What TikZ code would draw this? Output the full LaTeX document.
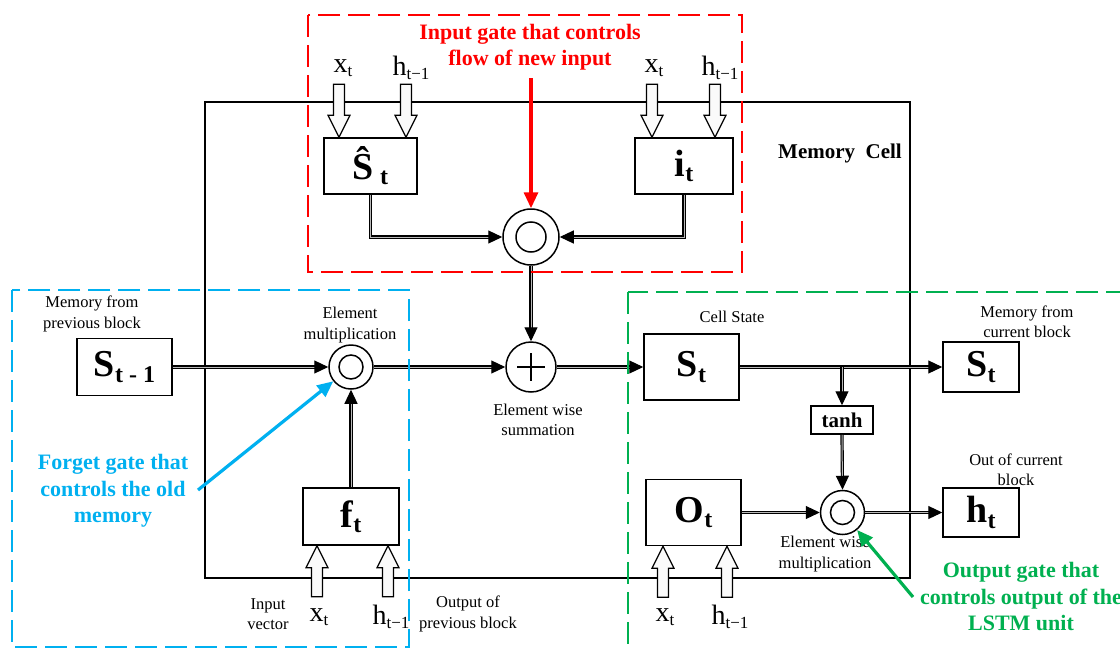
\documentclass[tikz,border=0pt]{standalone}
\usepackage{fontspec}
\setmainfont{Liberation Serif}
\usetikzlibrary{arrows.meta,calc}
\definecolor{gblue}{RGB}{0,176,240}
\definecolor{ggreen}{RGB}{0,176,80}
\definecolor{gred}{RGB}{255,0,0}
\newcommand\fs[1]{\fontsize{#1}{#1}\selectfont}
\newcommand\mysub[2]{\raisebox{-0.3ex}{\fontsize{#1}{#1}\selectfont #2}}
\begin{document}
\begin{tikzpicture}[x=1pt,y=-1pt,
  box/.style={draw, line width=1.5pt, inner sep=0pt, font=\bfseries\fs{38}},
  opc/.style={draw, circle, line width=1.5pt, inner sep=0pt, fill=white},
  conn/.style={draw=black, double=gray!55, double distance=1pt, line width=1.1pt,
    -{Triangle[length=14pt,width=13pt]}},
  lbl/.style={align=center, inner sep=0pt, font=\fontsize{16.5}{20.5}\selectfont},
  var/.style={inner sep=0pt, font=\fs{28}},
  hollow/.style={draw, line width=1.2pt, fill=gray!4},
  gatebox/.style={line width=2.6pt, dash pattern=on 22pt off 8pt},
  gatearrow/.style={line width=3.2pt, -{Triangle[length=16pt,width=14pt]}},
  gatetext/.style={align=center, inner sep=0pt, font=\bfseries\fontsize{22}{26.5}\selectfont},
  pics/hdown/.style={code={\draw[hollow] (-5.5,0) -- (5.5,0) -- (5.5,31) -- (11,31) -- (0,53) -- (-11,31) -- (-5.5,31) -- cycle;}},
  pics/hup/.style={code={\draw[hollow] (0,0) -- (11,22) -- (5.5,22) -- (5.5,51) -- (-5.5,51) -- (-5.5,22) -- (-11,22) -- cycle;}}
]
\useasboundingbox (0,0) rectangle (1120,648);
\fill[white] (0,0) rectangle (1120,648);

% memory cell
\draw[line width=1.5pt] (205,102) rectangle (910,578);
\node[font=\bfseries\fs{21}, inner sep=0pt] (mc) at (840,153) {Memory~~Cell};

% boxes
\node[box, minimum width=93pt, minimum height=56pt] (sh) at (370.5,166) {\^{S}\,\mysub{24}{t}};
\node[box, minimum width=98pt, minimum height=56pt] (it) at (684,166) {i\mysub{24}{t}};
\node[box, minimum width=95pt, minimum height=57pt] (st1) at (124.5,367) {S\mysub{24}{t - 1}};
\node[box, minimum width=96pt, minimum height=57pt] (ft) at (351,516.5) {f\mysub{24}{t}};
\node[box, minimum width=95pt, minimum height=66pt] (st) at (691.5,367) {S\mysub{24}{t}};
\node[box, minimum width=95pt, minimum height=66pt] (ot) at (693.5,512.5) {O\mysub{24}{t}};
\node[box, minimum width=76pt, minimum height=50pt] (st2) at (981,367) {S\mysub{24}{t}};
\node[box, minimum width=76pt, minimum height=49pt] (ht) at (981,512.5) {h\mysub{24}{t}};
\node[box, minimum width=62pt, minimum height=28pt, font=\bfseries\fs{21}] (tanh) at (842,420) {tanh};

% operators
\node[opc, minimum size=56pt] (topc) at (531,237) {};
\draw[line width=1.5pt] (topc.center) circle[radius=15pt];
\node[opc, minimum size=44pt] (lm) at (351,367) {};
\draw[line width=1.5pt] (lm.center) circle[radius=12pt];
\node[opc, minimum size=50pt] (plus) at (531,367) {};
\draw[line width=1.5pt] ($(plus.center)+(-14,0)$) -- ($(plus.center)+(14,0)$)
  ($(plus.center)+(0,-14)$) -- ($(plus.center)+(0,14)$);
\node[opc, minimum size=44pt] (oc) at (842.5,512.5) {};
\draw[line width=1.5pt] (oc.center) circle[radius=12pt];

% connectors
\draw[conn] (sh.south) |- (topc.west);
\draw[conn] (it.south) |- (topc.east);
\draw[conn] (topc.south) -- (plus.north);
\draw[conn] (st1.east) -- (lm.west);
\draw[conn] (lm.east) -- (plus.west);
\draw[conn] (ft.north) -- (lm.south);
\draw[conn] (plus.east) -- (st.west);
\draw[conn] (st.east) -- (st2.west);
\coordinate (br) at (tanh.north |- st.east);
\draw[conn] (br) -- (tanh.north);
\draw[conn] (tanh.south) -- (oc.north);
\draw[conn] (ot.east) -- (oc.west);
\draw[conn] (oc.east) -- (ht.west);

% hollow input arrows
\pic at ($(sh.north)+(-31.5,-53)$) {hdown};
\pic at ($(sh.north)+(35.5,-53)$) {hdown};
\pic at ($(it.north)+(-32,-53)$) {hdown};
\pic at ($(it.north)+(31,-53)$) {hdown};
\pic at ($(ft.south)+(-34,0)$) {hup};
\pic at ($(ft.south)+(37,0)$) {hup};
\pic at ($(ot.south)+(-30.5,0)$) {hup};
\pic at ($(ot.south)+(33.5,0)$) {hup};

% input labels
\node[var] (x1) at (343,68) {x\mysub{17}{t}};
\node[var] (h1) at (411,68) {h\mysub{17}{t−1}};
\node[var] (x2) at (654,68) {x\mysub{17}{t}};
\node[var] (h2) at (720,68) {h\mysub{17}{t−1}};
\node[var] (x3) at (319,617) {x\mysub{17}{t}};
\node[var] (h3) at (391,617) {h\mysub{17}{t−1}};
\node[var] (x4) at (665,617) {x\mysub{17}{t}};
\node[var] (h4) at (730,617) {h\mysub{17}{t−1}};

% small labels
\node[lbl] (l1) at (92,314) {Memory from\\previous block};
\node[lbl] (l2) at (350,325) {Element\\multiplication};
\node[lbl] (l3) at (538,420) {Element wise\\summation};
\node[lbl] (l4) at (732,317) {Cell State};
\node[lbl] (l5) at (1027,322) {Memory from\\current block};
\node[lbl] (l6) at (1016,470) {Out of current\\block};
\node[lbl] (l7) at (825,554) {Element wise\\multiplication};
\node[lbl] (l8) at (268,614) {Input\\vector};
\node[lbl] (l9) at (468,614) {Output of\\previous block};

% gate boxes
\draw[gatebox, gred] (308,15) rectangle (742,272);
\draw[gatebox, gblue] (12,290) rectangle (409,647);
\draw[gatebox, ggreen] (628,292) rectangle (1135,665);

% gate annotations
\node[gatetext, text=gred] (gi) at (530,47) {Input gate that controls\\flow of new input};
\coordinate (gia) at (531,78);
\draw[gatearrow, gred] (gia) -- (topc.north);
\node[gatetext, text=gblue] (gf) at (113,491) {Forget gate that\\controls the old\\memory};
\coordinate (gfa) at (198,490);
\draw[gatearrow, gblue] (gfa) -- (lm);
\node[gatetext, text=ggreen] (go) at (1021,596.5) {Output gate that\\controls output of the\\LSTM unit};
\coordinate (goa) at (913,597);
\draw[gatearrow, ggreen] (goa) -- (oc);
\end{tikzpicture}
\end{document}
